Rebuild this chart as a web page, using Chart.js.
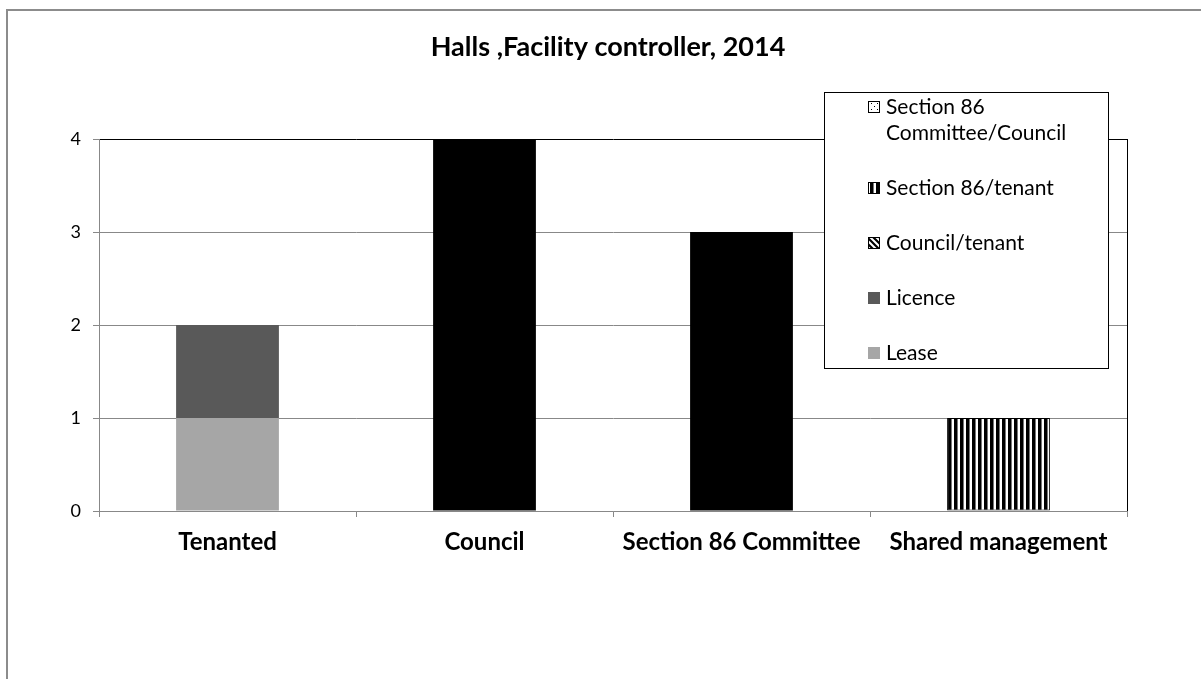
<!DOCTYPE html>
<html>
<head>
<meta charset="utf-8">
<script src="https://cdn.jsdelivr.net/npm/chart.js@4.4.1/dist/chart.umd.min.js"></script>
<style>
  html, body { margin: 0; padding: 0; background: #fff; }
  #wrap { width: 1201px; height: 679px; position: relative; }
</style>
</head>
<body>
<div id="wrap"><canvas id="c" width="1201" height="679"></canvas></div>
<script>
// ---- data ----
const categories = ['Tenanted', 'Council', 'Section 86 Committee', 'Shared management'];
const leaseValues = [1, null, null, null];
const licenceValues = [1, null, null, null];
const councilTenantValues = [null, null, null, null];
const section86TenantValues = [null, null, null, 1];
const section86CommitteeCouncilValues = [null, null, null, null];
const councilValues = [null, 4, null, null];
const section86CommitteeValues = [null, null, 3, null];
const yTickValues = [0, 1, 2, 3, 4];
const chartTitle = 'Halls ,Facility controller, 2014';

const FONT = 'Lato, "Open Sans", sans-serif';

// ---- patterns ----
function makePattern(w, h, draw) {
  const c = document.createElement('canvas');
  c.width = w; c.height = h;
  const g = c.getContext('2d');
  g.fillStyle = '#fff'; g.fillRect(0, 0, w, h);
  draw(g);
  return c.getContext('2d').createPattern(c, 'repeat');
}
const vStripes = makePattern(6, 6, g => {
  g.fillStyle = '#000'; g.fillRect(0, 0, 3, 6);
  g.fillStyle = '#777'; g.fillRect(3, 0, 1, 6);
});
const diagStripes = makePattern(6, 6, g => {
  g.strokeStyle = '#000'; g.lineWidth = 2.2;
  g.beginPath();
  g.moveTo(-1, -1); g.lineTo(7, 7);
  g.moveTo(-4, 2); g.lineTo(2, 8);
  g.moveTo(2, -4); g.lineTo(8, 2);
  g.stroke();
});
const dots = makePattern(6, 6, g => {
  g.fillStyle = '#000';
  g.fillRect(1, 1, 1, 1);
  g.fillRect(4, 4, 1, 1);
});

const datasets = [
  { label: 'Lease', data: leaseValues, backgroundColor: '#a6a6a6', inLegend: true },
  { label: 'Licence', data: licenceValues, backgroundColor: '#595959', inLegend: true },
  { label: 'Council/tenant', data: councilTenantValues, backgroundColor: diagStripes, borderColor: '#000', borderWidth: 1, borderSkipped: false, inLegend: true },
  { label: 'Section 86/tenant', data: section86TenantValues, backgroundColor: vStripes, borderColor: '#000', borderWidth: 1, borderSkipped: false, inLegend: true },
  { label: 'Section 86 Committee/Council', data: section86CommitteeCouncilValues, backgroundColor: dots, borderColor: '#000', borderWidth: 1, borderSkipped: false, inLegend: true },
  { label: 'Council', data: councilValues, backgroundColor: '#000', inLegend: false },
  { label: 'Section 86 Committee', data: section86CommitteeValues, backgroundColor: '#000', inLegend: false }
].map(d => Object.assign({ barPercentage: 0.4, categoryPercentage: 1.0, yAxisID: 'y' }, d));

// ---- outer frame ----
const framePlugin = {
  id: 'frame',
  beforeDraw(chart) {
    const ctx = chart.ctx;
    ctx.save();
    ctx.fillStyle = '#fff';
    ctx.fillRect(0, 0, chart.width, chart.height);
    ctx.strokeStyle = '#8c8c8c';
    ctx.lineWidth = 2;
    ctx.strokeRect(7, 10, chart.width + 20, chart.height + 20);
    ctx.restore();
  },
  afterDatasetsDraw(chart) {
    // right plot border
    const a = chart.chartArea, ctx = chart.ctx;
    ctx.save();
    ctx.strokeStyle = '#000';
    ctx.lineWidth = 1;
    ctx.beginPath();
    ctx.moveTo(Math.round(a.right) + 0.5, a.top);
    ctx.lineTo(Math.round(a.right) + 0.5, a.bottom);
    ctx.stroke();
    ctx.restore();
  }
};

// ---- custom legend box (overlapping plot, as in the reference) ----
const boxLegendPlugin = {
  id: 'boxLegend',
  afterDraw(chart, args, opts) {
    const ctx = chart.ctx;
    const items = chart.data.datasets.filter(d => d.inLegend).slice().reverse();
    ctx.save();
    ctx.fillStyle = '#fff';
    ctx.fillRect(opts.x, opts.y, opts.w, opts.h);
    ctx.strokeStyle = '#000';
    ctx.lineWidth = 1;
    ctx.strokeRect(opts.x + 0.5, opts.y + 0.5, opts.w, opts.h);
    ctx.font = opts.fontSize + 'px ' + FONT;
    ctx.textBaseline = 'middle';
    ctx.fillStyle = '#000';
    let y = opts.firstY;
    items.forEach((d, i) => {
      const words = d.label.split(' ');
      const lines = [];
      let cur = '';
      words.forEach(w => {
        const t = cur ? cur + ' ' + w : w;
        if (ctx.measureText(t).width > opts.wrap && cur) { lines.push(cur); cur = w; }
        else cur = t;
      });
      lines.push(cur);
      const s = opts.icon;
      const ix = opts.iconX, iy = Math.round(y - s / 2);
      ctx.fillStyle = d.backgroundColor;
      ctx.fillRect(ix, iy, s, s);
      if (d.borderWidth) {
        ctx.strokeStyle = '#000';
        ctx.strokeRect(ix + 0.5, iy + 0.5, s - 1, s - 1);
      }
      ctx.fillStyle = '#000';
      lines.forEach((ln, k) => ctx.fillText(ln, opts.textX, y + k * opts.lineH));
      y += (lines.length - 1) * opts.lineH + opts.step;
    });
    ctx.restore();
  }
};

new Chart(document.getElementById('c'), {
  type: 'bar',
  data: { labels: categories, datasets },
  plugins: [framePlugin, boxLegendPlugin],
  options: {
    responsive: false,
    animation: false,
    events: [],
    layout: { padding: { left: 15, right: 0, top: 0, bottom: 0 } },
    plugins: {
      legend: { display: false },
      tooltip: { enabled: false },
      title: {
        display: true,
        text: chartTitle,
        color: '#000',
        font: { family: FONT, size: 27, weight: 'bold', lineHeight: 1.2 },
        padding: { top: 31, bottom: 75.6 }
      },
      boxLegend: { x: 824, y: 92, w: 284, h: 276, iconX: 868, icon: 12, textX: 886, firstY: 107, lineH: 26, step: 55, wrap: 200, fontSize: 21 }
    },
    scales: {
      x: {
        stacked: true,
        grid: { drawOnChartArea: false, offset: true, tickLength: 6, color: '#888', tickColor: '#888' },
        border: { color: '#888', width: 1 },
        ticks: { color: '#000', font: { family: FONT, size: 24, weight: 'bold' }, padding: 11, maxRotation: 0, autoSkip: false },
        afterFit(s) { s.height = 168; }
      },
      y: {
        stacked: true,
        min: 0,
        max: 4,
        afterBuildTicks(s) { s.ticks = yTickValues.map(v => ({ value: v })); },
        grid: {
          color: c => (c.tick && c.tick.value === 4 ? '#000' : '#888'),
          tickColor: '#888',
          tickLength: 6
        },
        border: { color: '#888', width: 1 },
        ticks: { color: '#000', font: { family: FONT, size: 18 }, padding: 12 },
        afterFit(s) { s.width = 84; }
      },
      yRight: {
        position: 'right',
        display: true,
        grid: { display: false },
        border: { display: false },
        ticks: { display: false },
        afterFit(s) { s.width = 74; }
      }
    }
  }
});
</script>
</body>
</html>
